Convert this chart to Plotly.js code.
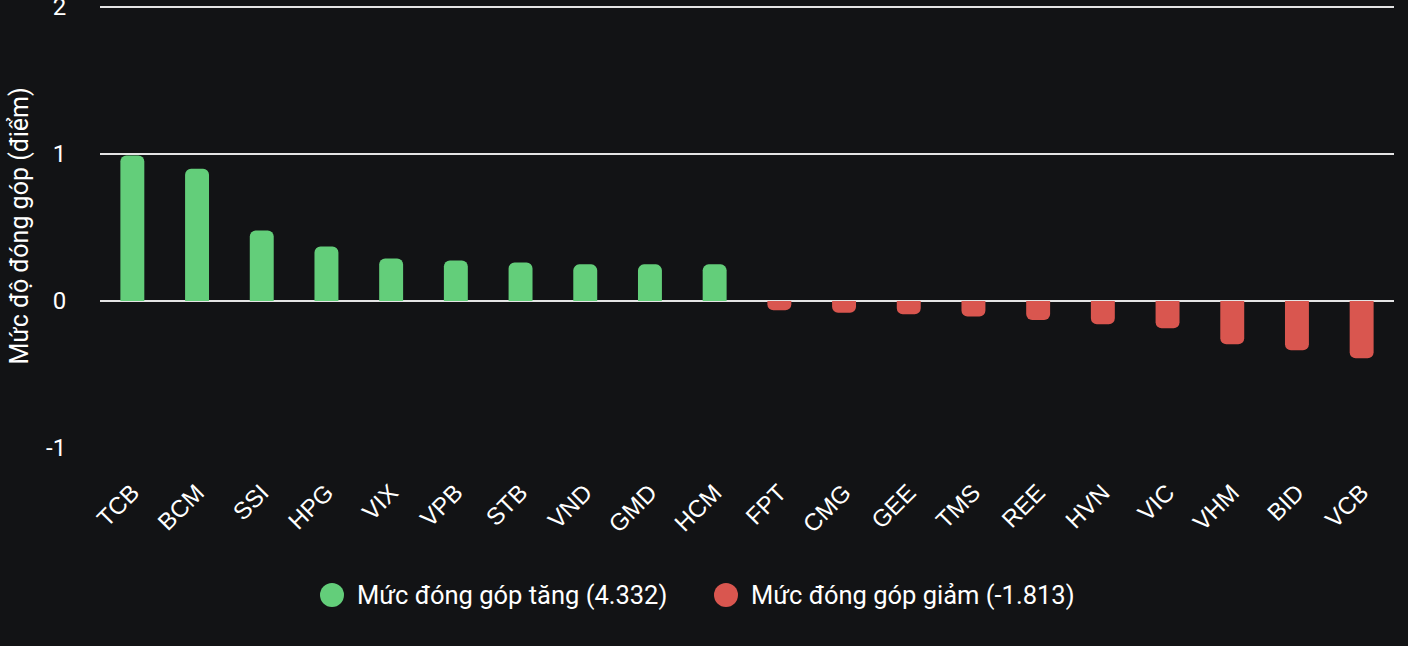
<!DOCTYPE html>
<html>
<head>
<meta charset="utf-8">
<script src="https://cdn.plot.ly/plotly-3.0.1.min.js"></script>
<style>
html,body{margin:0;padding:0;background:#121315;}
#chart{width:1408px;height:646px;}
</style>
</head>
<body>
<div id="chart"></div>
<script>
const gainTickers = ["TCB","BCM","SSI","HPG","VIX","VPB","STB","VND","GMD","HCM"];
const gainValues  = [0.99, 0.90, 0.479, 0.371, 0.289, 0.276, 0.262, 0.249, 0.249, 0.249];
const lossTickers = ["FPT","CMG","GEE","TMS","REE","HVN","VIC","VHM","BID","VCB"];
const lossValues  = [-0.063, -0.08, -0.09, -0.105, -0.13, -0.158, -0.185, -0.294, -0.335, -0.39];
const gainLabel = "Mức đóng góp tăng (4.332)";
const lossLabel = "Mức đóng góp giảm (-1.813)";
const yTitle = "Mức độ đóng góp (điểm)";
const yTicks = [-1, 0, 1, 2];

const GREEN = "#63ce7a", RED = "#d9564f", BG = "#121315", GRID = "#e4e4e4";

const traces = [
  {type:"bar", x:gainTickers, y:gainValues, name:gainLabel, marker:{color:GREEN}, showlegend:false, hoverinfo:"x+y"},
  {type:"bar", x:lossTickers, y:lossValues, name:lossLabel, marker:{color:RED}, showlegend:false, hoverinfo:"x+y"}
];

const L = 100, R = 14, T = 4, B = 198, W = 1408, H = 646;
const pw = W - L - R, ph = H - T - B;
const px = v => (v - L) / pw;
const py = v => (H - B - v) / ph;

function legendItem(cx, tx, cy, color, text){
  return {
    shape:{type:"circle", xref:"paper", yref:"paper", xsizemode:"pixel", ysizemode:"pixel",
      xanchor:px(cx), yanchor:py(cy), x0:-12, x1:12, y0:-12, y1:12,
      fillcolor:color, line:{width:0}},
    ann:{xref:"paper", yref:"paper", x:px(tx), y:py(cy), xanchor:"left", yanchor:"middle",
      text:text, showarrow:false, font:{family:"Roboto", size:25.5, color:"#ffffff"}}
  };
}
const li1 = legendItem(332, 355, 595, GREEN, gainLabel);
const li2 = legendItem(726, 749, 595, RED, lossLabel);

const layout = {
  width:W, height:H,
  paper_bgcolor:BG, plot_bgcolor:BG,
  margin:{l:L, r:R, t:T, b:B, pad:0},
  barmode:"relative",
  bargap:0.63,
  barcornerradius:6,
  showlegend:false,
  font:{family:"Roboto", color:"#ffffff"},
  xaxis:{
    type:"category",
    tickangle:-45,
    tickfont:{family:"Liberation Sans, Arial", size:24, color:"#ffffff"},
    showgrid:false, showline:false, zeroline:false,
    ticks:"outside", ticklen:20, tickcolor:"rgba(0,0,0,0)",
    automargin:false, fixedrange:true
  },
  yaxis:{
    range:[-1, 2.02],
    tickvals:yTicks, ticktext:yTicks.map(String),
    tickfont:{family:"Roboto", size:24, color:"#ffffff"},
    ticklabeloverflow:"allow",
    showgrid:true, gridcolor:GRID, gridwidth:2,
    zeroline:true, zerolinecolor:GRID, zerolinewidth:2,
    showline:false,
    ticks:"outside", ticklen:28, tickcolor:"rgba(0,0,0,0)",
    title:{text:yTitle, font:{family:"Roboto", size:25, color:"#ffffff"}, standoff:10},
    automargin:false, fixedrange:true
  },
  shapes:[li1.shape, li2.shape],
  annotations:[li1.ann, li2.ann]
};

Plotly.newPlot("chart", traces, layout, {displayModeBar:false, staticPlot:true});
</script>
</body>
</html>
